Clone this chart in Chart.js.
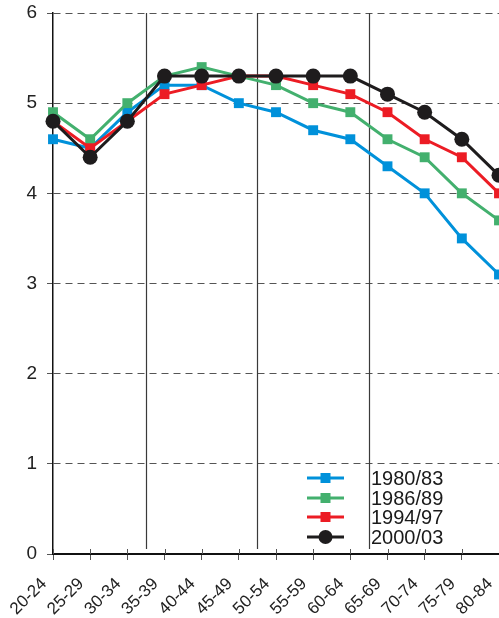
<!DOCTYPE html>
<html><head><meta charset="utf-8">
<script src="https://cdn.jsdelivr.net/npm/chart.js@4"></script>
<style>
html,body{margin:0;padding:0;background:#fff;overflow:hidden;width:499px;height:618px}
#wrap{position:relative;width:499px;height:618px;overflow:hidden}
canvas{display:block}
</style></head><body>
<div id="wrap"><canvas id="c" width="560" height="618"></canvas></div>
<script>
const categories = ['20-24','25-29','30-34','35-39','40-44','45-49','50-54','55-59','60-64','65-69','70-74','75-79','80-84'];
const seriesNames = ['1980/83','1986/89','1994/97','2000/03'];
const values1980 = [4.6,4.5,4.9,5.2,5.2,5.0,4.9,4.7,4.6,4.3,4.0,3.5,3.1];
const values1986 = [4.9,4.6,5.0,5.3,5.4,5.3,5.2,5.0,4.9,4.6,4.4,4.0,3.7];
const values1994 = [4.8,4.5,4.8,5.1,5.2,5.3,5.3,5.2,5.1,4.9,4.6,4.4,4.0];
const values2000 = [4.8,4.4,4.8,5.3,5.3,5.3,5.3,5.3,5.3,5.1,4.9,4.6,4.2];
const yTickValues = [0,1,2,3,4,5,6];
const dividerAfter = [2.5,5.5,8.5];

const FONT = "'Liberation Sans', Arial, sans-serif";
const colors = ['#0091DA','#43B06E','#EC1C24','#1E1C1D'];
const styles = ['rect','rect','rect','circle'];
const radii = [7,7,7,7.5];
const allValues = [values1980, values1986, values1994, values2000];

const datasets = allValues.map((v,i)=>({
  label: seriesNames[i],
  data: v,
  borderColor: colors[i],
  backgroundColor: colors[i],
  pointBackgroundColor: colors[i],
  pointBorderColor: colors[i],
  pointBorderWidth: 0,
  pointStyle: styles[i],
  pointRadius: radii[i],
  borderWidth: 3,
  tension: 0,
  clip: false,
  order: 3 - i
}));

const extras = {
  id: 'extras',
  beforeDatasetsDraw(chart){
    const {ctx, chartArea, scales} = chart;
    ctx.save();
    ctx.strokeStyle = '#3a3a3a';
    ctx.lineWidth = 1.2;
    dividerAfter.forEach(d=>{
      const x = Math.round(scales.x.getPixelForValue(d)) + 0.5;
      ctx.beginPath();
      ctx.moveTo(x, chartArea.top);
      ctx.lineTo(x, chartArea.bottom - 5);
      ctx.stroke();
    });
    ctx.strokeStyle = '#555';
    ctx.lineWidth = 1;
    categories.forEach((c,i)=>{
      const x = Math.round(scales.x.getPixelForValue(i)) + 0.5;
      ctx.beginPath();
      ctx.moveTo(x, chartArea.bottom - 5);
      ctx.lineTo(x, chartArea.bottom);
      ctx.stroke();
    });
    ctx.restore();
  },
  afterDatasetsDraw(chart){
    const {ctx} = chart;
    ctx.save();
    const x0 = 307, x1 = 344, tx = 371;
    const ys = [478, 498, 517, 537];
    seriesNames.forEach((n,i)=>{
      const y = ys[i];
      ctx.strokeStyle = colors[i];
      ctx.lineWidth = 3;
      ctx.beginPath(); ctx.moveTo(x0,y); ctx.lineTo(x1,y); ctx.stroke();
      ctx.fillStyle = colors[i];
      if (styles[i] === 'circle') {
        ctx.beginPath(); ctx.arc((x0+x1)/2, y, 7, 0, Math.PI*2); ctx.fill();
      } else {
        ctx.fillRect((x0+x1)/2 - 5, y - 5, 10, 10);
      }
      ctx.fillStyle = '#1a1a1a';
      ctx.font = '20px ' + FONT;
      ctx.textBaseline = 'middle';
      ctx.textAlign = 'left';
      ctx.fillText(n, tx, y + 1);
    });
    ctx.restore();
  }
};

new Chart(document.getElementById('c'), {
  type: 'line',
  data: { labels: categories, datasets },
  options: {
    responsive: false,
    animation: false,
    devicePixelRatio: 1,
    layout: { padding: { left: 0, top: 13, right: 61, bottom: 0 } },
    plugins: { legend: { display: false }, tooltip: { enabled: false } },
    scales: {
      x: {
        type: 'category',
        offset: false,
        grid: { drawOnChartArea: false, drawTicks: true, tickLength: 6, tickColor: '#555', color: '#555' },
        border: { display: true, color: '#111', width: 2 },
        ticks: { autoSkip: false, minRotation: 45, maxRotation: 45, padding: 14, labelOffset: -9, color: '#222', font: { family: FONT, size: 17 } },
        afterFit(s){ s.height = 64; s.paddingLeft = 0; s.paddingRight = 0; }
      },
      y: {
        min: 0, max: 6,
        afterBuildTicks(s){ s.ticks = yTickValues.map(v=>({value:v})); },
        grid: { color: '#555', lineWidth: 1, tickLength: 6, tickColor: '#555', tickBorderDash: [] },
        border: { display: true, color: '#111', width: 1.5, dash: [7,5] },
        ticks: { padding: 10, color: '#222', font: { family: FONT, size: 19 } },
        afterFit(s){ s.width = 53; s.paddingTop = 0; s.paddingBottom = 0; }
      }
    }
  },
  plugins: [extras]
});
</script>
</body></html>
